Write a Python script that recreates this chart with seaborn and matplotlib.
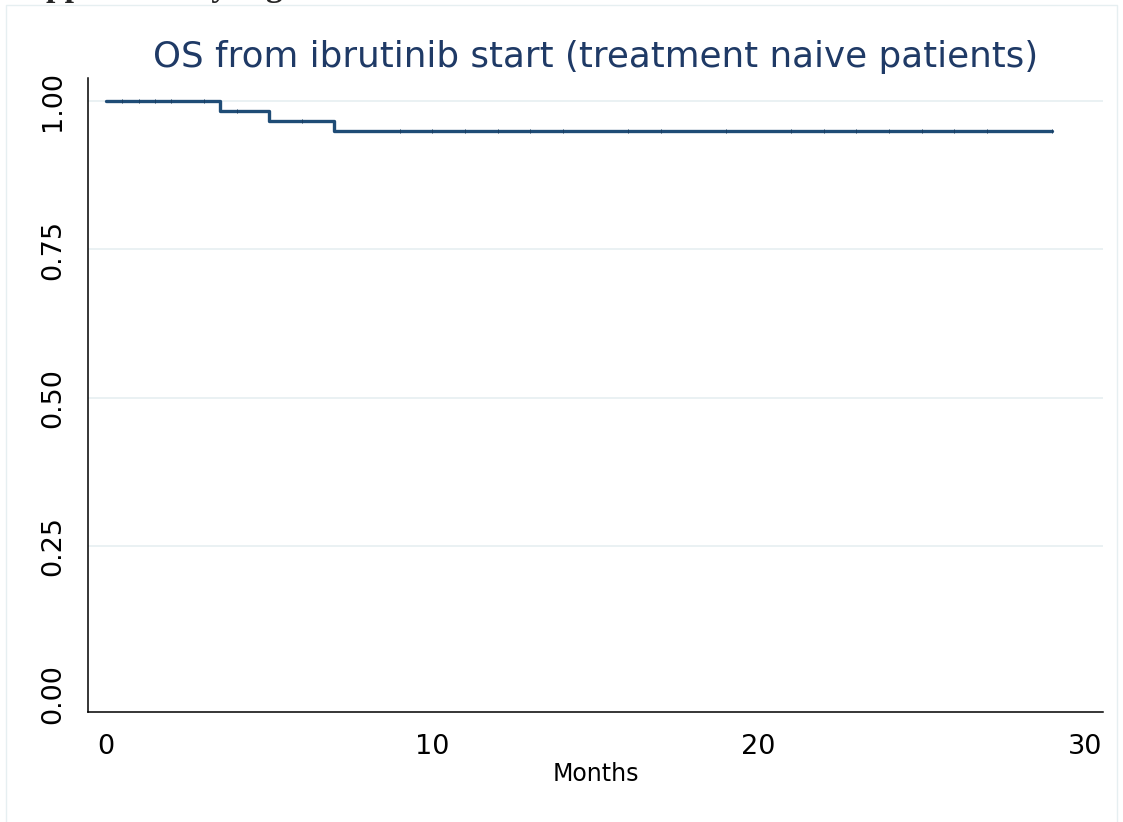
import numpy as np
import pandas as pd
import matplotlib
matplotlib.use("Agg")
import matplotlib.pyplot as plt
import seaborn as sns

# Kaplan-Meier step data
event_months = [0, 3.5, 5, 7, 29]
survival = [1.0, 0.984, 0.967, 0.949, 0.949]

# censoring marks along the curve
censor_months = [0.5, 1, 1.5, 2, 3, 4, 6, 9, 10, 11, 12, 13, 14, 16, 17,
                 19, 21, 22, 23, 24, 25, 26, 27, 29]

y_ticks = [0.0, 0.25, 0.50, 0.75, 1.0]
y_ticklabels = ["0.00", "0.25", "0.50", "0.75", "1.00"]
x_ticks = [0, 10, 20, 30]

title = "OS from ibrutinib start (treatment naive patients)"
navy = "#1f4c76"

sns.set_style("white")
plt.rcParams['font.family'] = ['DejaVu Sans']

km = pd.DataFrame({"months": event_months, "surv": survival})
# survival at each censor time from the step function
idx = np.searchsorted(event_months, censor_months, side="right") - 1
cens = pd.DataFrame({"months": censor_months,
                     "surv": np.array(survival)[idx]})

fig = plt.figure(figsize=(11.23, 8.22), dpi=100)
ax = fig.add_axes([0.0784, 0.1338, 0.9036, 0.7712])

for yv in y_ticks[1:]:
    ax.axhline(yv, color="#e8f0f2", lw=1.3, zorder=0)

sns.lineplot(data=km, x="months", y="surv", drawstyle="steps-post",
             color=navy, lw=2.4, ax=ax, zorder=3)
sns.scatterplot(data=cens, x="months", y="surv", marker="|", s=12,
                color="#1a3f63", linewidth=0.7, ax=ax, zorder=4)

ax.set_xlim(-0.55, 30.55)
ax.set_ylim(-0.030, 1.039)
ax.set_xticks(x_ticks)
ax.set_yticks(y_ticks)
ax.set_yticklabels(y_ticklabels, rotation=90, va="center")
ax.tick_params(axis="both", direction="out", length=6, width=1.1,
               color="black", labelcolor="black", labelsize=19.5)
ax.tick_params(axis="x", pad=10)
ax.tick_params(axis="y", pad=10)
for side in ["top", "right"]:
    ax.spines[side].set_visible(False)
for side in ["left", "bottom"]:
    ax.spines[side].set_color("black")
    ax.spines[side].set_linewidth(1.1)

ax.set_xlabel("Months", fontsize=17, color="black", labelpad=1)
ax.set_ylabel("")
ax.set_title(title, fontsize=25.7, color="#1f3a66", pad=8)

# faint outer frame of the graph region
fig.add_artist(plt.Line2D([0.005, 0.005, 0.995, 0.995],
                          [0.0, 0.994, 0.994, 0.0],
                          transform=fig.transFigure, color="#e6eff1", lw=1))
# caption cut off at the top of the page (only descenders show)
fig.text(0.008, 1.005, "Supplementary Figure", fontsize=24, fontweight="bold",
         family="Liberation Serif", va="baseline", ha="left")

fig.savefig("out.png", dpi=100)
